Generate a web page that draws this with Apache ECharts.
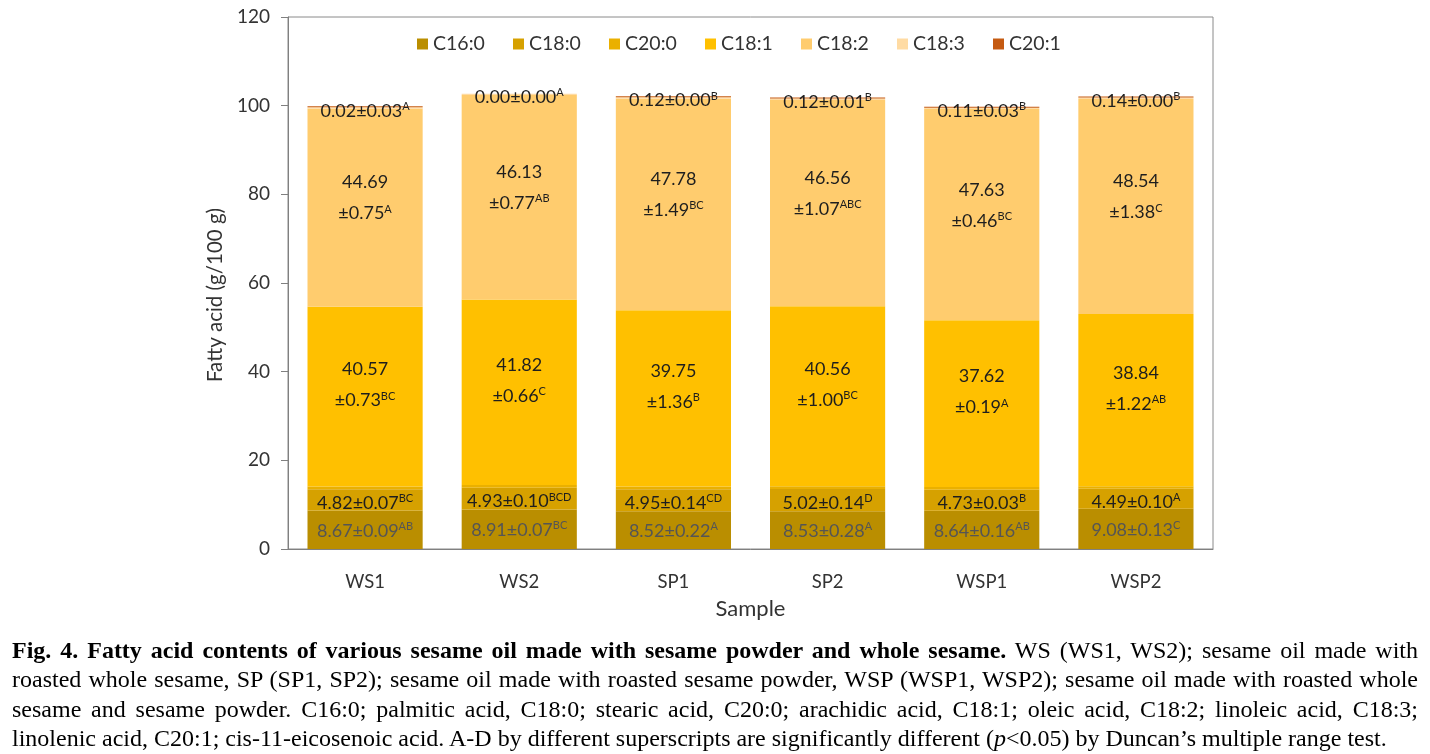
<!DOCTYPE html>
<html>
<head>
<meta charset="utf-8">
<script src="https://cdn.jsdelivr.net/npm/echarts@6/dist/echarts.min.js"></script>
<style>
html,body{margin:0;padding:0;background:#fff;}
#chart{position:absolute;left:0;top:0;width:1430px;height:754px;}
#cap{position:absolute;left:12px;top:636px;width:1406px;font-family:"Liberation Serif","Times New Roman",serif;font-size:24px;line-height:29.3px;color:#000;z-index:5;}
#cap div{white-space:nowrap;}
#cap .j{text-align:justify;text-align-last:justify;}
#cap .l{text-align:left;}
</style>
</head>
<body>
<div id="chart"></div>
<div id="cap">
<div class="j"><b>Fig. 4. Fatty acid contents of various sesame oil made with sesame powder and whole sesame.</b> WS (WS1, WS2); sesame oil made with</div>
<div class="j">roasted whole sesame, SP (SP1, SP2); sesame oil made with roasted sesame powder, WSP (WSP1, WSP2); sesame oil made with roasted whole</div>
<div class="j">sesame and sesame powder. C16:0; palmitic acid, C18:0; stearic acid, C20:0; arachidic acid, C18:1; oleic acid, C18:2; linoleic acid, C18:3;</div>
<div class="l">linolenic acid, C20:1; cis-11-eicosenoic acid. A-D by different superscripts are significantly different (<i>p</i>&lt;0.05) by Duncan’s multiple range test.</div>
</div>
<script>
// ---- data ----
const categories = ['WS1', 'WS2', 'SP1', 'SP2', 'WSP1', 'WSP2'];
const seriesNames = ['C16:0', 'C18:0', 'C20:0', 'C18:1', 'C18:2', 'C18:3', 'C20:1'];
const yTicks = [0, 20, 40, 60, 80, 100, 120];

const c160 = [8.67, 8.91, 8.52, 8.53, 8.64, 9.08];
const c160sd = ['0.09', '0.07', '0.22', '0.28', '0.16', '0.13'];
const c160sig = ['AB', 'BC', 'A', 'A', 'AB', 'C'];

const c180 = [4.82, 4.93, 4.95, 5.02, 4.73, 4.49];
const c180sd = ['0.07', '0.10', '0.14', '0.14', '0.03', '0.10'];
const c180sig = ['BC', 'BCD', 'CD', 'D', 'B', 'A'];

const c200 = [0.60, 0.60, 0.62, 0.62, 0.60, 0.58];   // thin, unlabeled (estimated)

const c181 = [40.57, 41.82, 39.75, 40.56, 37.62, 38.84];
const c181sd = ['0.73', '0.66', '1.36', '1.00', '0.19', '1.22'];
const c181sig = ['BC', 'C', 'B', 'BC', 'A', 'AB'];

const c182 = [44.69, 46.13, 47.78, 46.56, 47.63, 48.54];
const c182sd = ['0.75', '0.77', '1.49', '1.07', '0.46', '1.38'];
const c182sig = ['A', 'AB', 'BC', 'ABC', 'BC', 'C'];

const c183 = [0.30, 0.30, 0.30, 0.30, 0.30, 0.30];   // thin, unlabeled (estimated)

const c201 = [0.02, 0.00, 0.12, 0.12, 0.11, 0.14];
const c201sd = ['0.03', '0.00', '0.00', '0.01', '0.03', '0.00'];
const c201sig = ['A', 'A', 'B', 'B', 'B', 'B'];

// ---- style ----
const colors = ['#BA8E00', '#D6A100', '#EAB000', '#FFC000', '#FFCC6E', '#FFDBA3', '#C55A11'];
const FONT = 'Lato';
const txt = '#1e1e1e';

function oneLine(vals, sds, sigs) {
  return function (p) {
    const i = p.dataIndex;
    return '{n|' + vals[i].toFixed(2) + '±' + sds[i] + '}{s|' + sigs[i] + '}';
  };
}
function twoLine(vals, sds, sigs) {
  return function (p) {
    const i = p.dataIndex;
    return '{a|' + vals[i].toFixed(2) + '}\n{n|±' + sds[i] + '}{s|' + sigs[i] + '}';
  };
}
function rich(color) {
  return {
    a: { fontFamily: FONT, fontSize: 18, color: color, lineHeight: 42 },
    n: { fontFamily: FONT, fontSize: 18, color: color, lineHeight: 20 },
    s: { fontFamily: FONT, fontSize: 11, color: color, verticalAlign: 'top', lineHeight: 20 }
  };
}

const dataArrays = [c160, c180, c200, c181, c182, c183, c201];
const labels = [
  { show: true, position: 'inside', formatter: oneLine(c160, c160sd, c160sig), rich: rich('#555555'), offset: [0, 1] },
  { show: true, position: 'inside', formatter: oneLine(c180, c180sd, c180sig), rich: rich(txt), offset: [0, 3] },
  { show: false },
  { show: true, position: 'inside', formatter: twoLine(c181, c181sd, c181sig), rich: rich(txt), offset: [0, -17] },
  { show: true, position: 'inside', formatter: twoLine(c182, c182sd, c182sig), rich: rich(txt), offset: [0, -15] },
  { show: false },
  { show: true, position: 'inside', formatter: oneLine(c201, c201sd, c201sig), rich: rich(txt), offset: [0, 4] }
];

const series = seriesNames.map(function (name, k) {
  const arr = dataArrays[k];
  return {
    name: name,
    type: 'bar',
    stack: 'total',
    barCategoryGap: '25.3%',
    barMinHeight: k === 6 ? 1 : 0,
    itemStyle: { color: colors[k] },
    label: labels[k],
    emphasis: { disabled: true },
    data: arr.map(function (v) {
      return v === 0 ? { value: v, itemStyle: { color: 'rgba(0,0,0,0)' } } : v;
    })
  };
});

const chart = echarts.init(document.getElementById('chart'), null, { renderer: 'canvas' });
chart.setOption({
  animation: false,
  backgroundColor: '#ffffff',
  color: colors,
  textStyle: { fontFamily: FONT },
  legend: {
    data: seriesNames,
    left: 417,
    top: 33,
    padding: 0,
    icon: 'rect',
    itemWidth: 11,
    itemHeight: 11,
    itemGap: 17,
    textStyle: { fontFamily: FONT, fontSize: 19.5, color: '#333333', width: 63, lineHeight: 22 }
  },
  grid: {
    left: 288, right: 217, top: 17, bottom: 205,
    show: true, borderColor: '#8a8a8a', borderWidth: 1, backgroundColor: 'transparent'
  },
  xAxis: {
    type: 'category',
    data: categories,
    name: 'Sample',
    nameLocation: 'middle',
    nameGap: 49,
    nameTextStyle: { fontFamily: FONT, fontSize: 22, color: '#333333' },
    axisLine: { lineStyle: { color: '#808080', width: 1 } },
    axisTick: { show: false },
    axisLabel: { fontFamily: FONT, fontSize: 18.5, color: '#333333', margin: 24 }
  },
  yAxis: {
    type: 'value',
    min: 0, max: 120, interval: 20,
    name: 'Fatty acid (g/100 g)',
    nameLocation: 'middle',
    nameGap: 43,
    nameTextStyle: { fontFamily: FONT, fontSize: 20.5, color: '#333333', padding: [0, 24, 0, 0] },
    axisLine: { show: true, lineStyle: { color: '#808080', width: 1 } },
    axisTick: { show: true, length: 7, lineStyle: { color: '#808080' } },
    splitLine: { show: false },
    axisLabel: {
      fontFamily: FONT, fontSize: 19, color: '#333333', margin: 18,
      formatter: function (v) { return yTicks.indexOf(v) >= 0 ? String(v) : ''; }
    }
  },
  series: series
});
</script>
</body>
</html>
